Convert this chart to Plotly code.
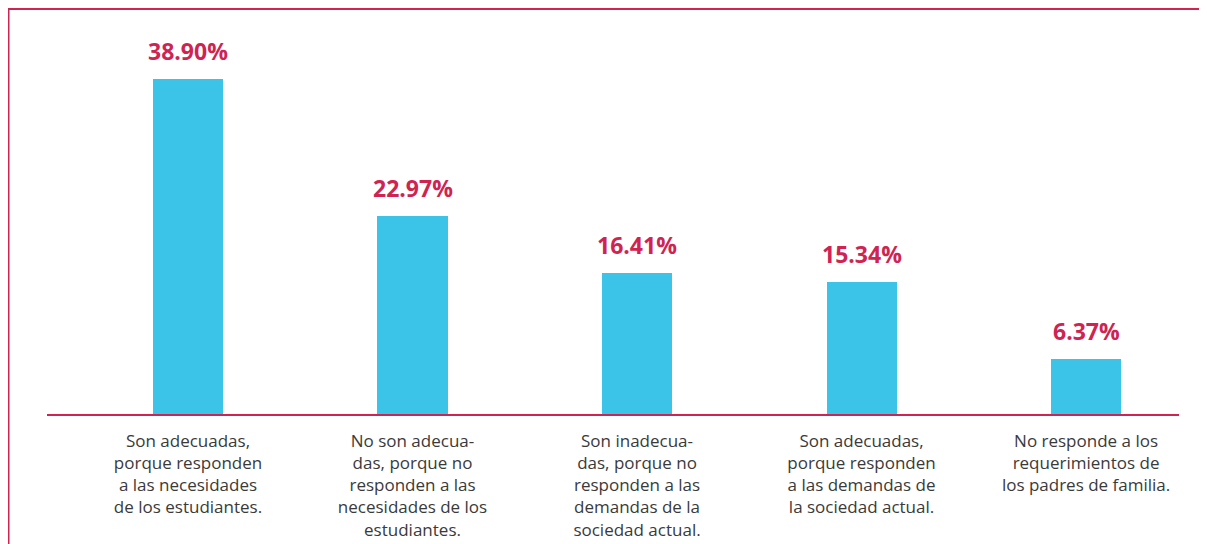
import plotly.graph_objects as go

categories = [
    "Son adecuadas,<br>porque responden<br>a las necesidades<br>de los estudiantes.",
    "No son adecua-<br>das, porque no<br>responden a las<br>necesidades de los<br>estudiantes.",
    "Son inadecua-<br>das, porque no<br>responden a las<br>demandas de la<br>sociedad actual.",
    "Son adecuadas,<br>porque responden<br>a las demandas de<br>la sociedad actual.",
    "No responde a los<br>requerimientos de<br>los padres de familia.",
]
values = [38.90, 22.97, 16.41, 15.34, 6.37]
value_labels = ["38.90%", "22.97%", "16.41%", "15.34%", "6.37%"]

CRIMSON = "#CF2452"
CYAN = "#3BC4E8"

# page offset of 8px (body margin) is compensated
OFF = 8
W, H = 1207, 544
left, right = 47 - OFF, 1179 - OFF
bottom_px = 414 - OFF
top_px = 26.5 - OFF
x = list(range(len(categories)))

fig = go.Figure()
fig.add_trace(go.Bar(
    x=x, y=values, width=0.312, marker=dict(color=CYAN, line=dict(width=0)),
    hoverinfo="skip",
))

for xi, v, t in zip(x, values, value_labels):
    fig.add_annotation(x=xi, y=v, text=f"<b>{t}</b>", showarrow=False,
                       yanchor="bottom", yshift=10,
                       font=dict(family="Open Sans, sans-serif", size=23, color=CRIMSON))

plot_w = right - left
plot_h = bottom_px - top_px
bx = (8 - OFF - left) / plot_w
ty = (bottom_px - (8 - OFF)) / plot_h
fig.add_shape(type="line", xref="paper", yref="paper", x0=bx, x1=bx, y0=ty, y1=-1,
              line=dict(color=CRIMSON, width=3))
fig.add_shape(type="line", xref="paper", yref="paper", x0=bx, x1=2, y0=ty, y1=ty,
              line=dict(color=CRIMSON, width=3))

fig.update_layout(
    width=W, height=H,
    margin=dict(l=left, r=W - right, t=top_px, b=H - bottom_px, autoexpand=False),
    paper_bgcolor="white", plot_bgcolor="white",
    showlegend=False,
    bargap=0,
    xaxis=dict(
        range=[-0.628, 4.414], tickmode="array", tickvals=x, ticktext=categories,
        showgrid=False, zeroline=False, showline=True, linecolor=CRIMSON, linewidth=1.5,
        ticks="", tickfont=dict(family="Open Sans, sans-serif", size=17, color="#3a3a3a"),
        ticklabelstandoff=11, automargin=False,
    ),
    yaxis=dict(range=[0, 45], visible=False, showgrid=False, zeroline=False),
)

fig.write_html("out.html")
